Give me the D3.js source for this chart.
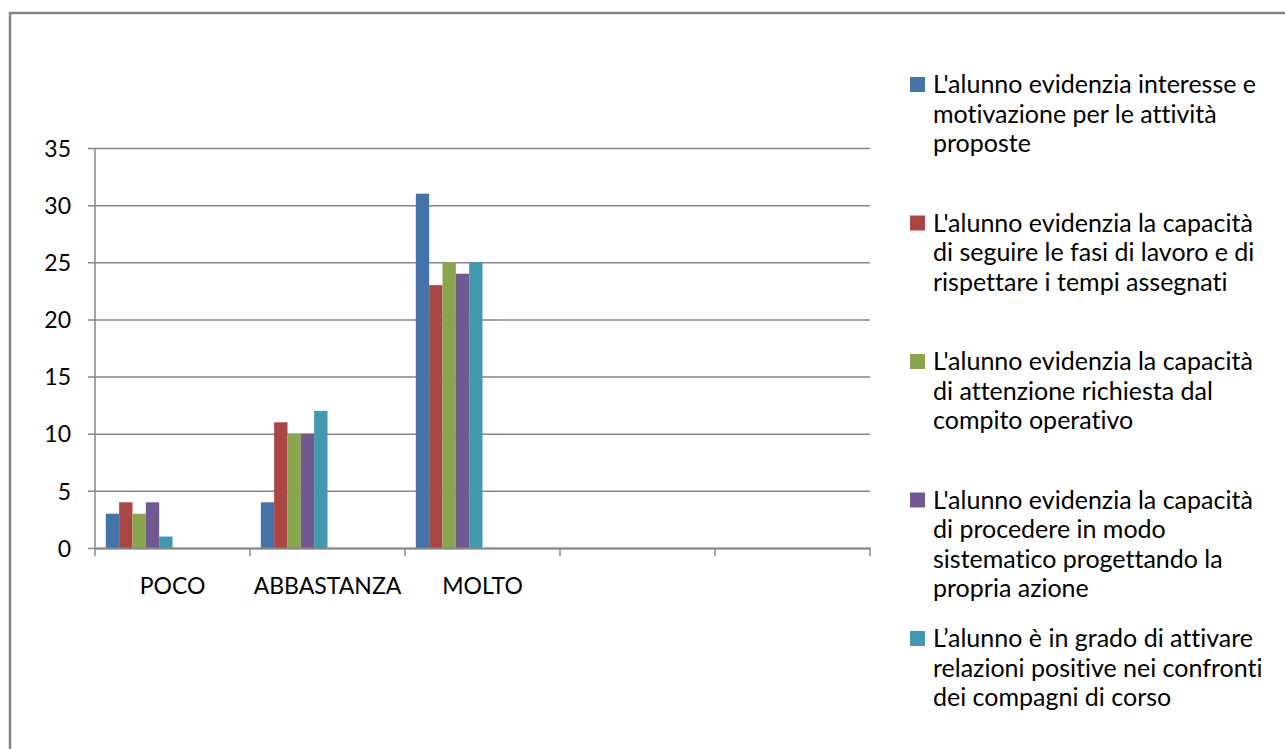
<!DOCTYPE html>
<html>
<head>
<meta charset="utf-8">
<script src="https://cdn.jsdelivr.net/npm/d3@7"></script>
<style>
  html, body { margin: 0; padding: 0; background: #fff; }
  svg { display: block; }
  text { font-family: Lato, Calibri, "Liberation Sans", sans-serif; fill: #000; font-variant-ligatures: none; }
</style>
</head>
<body>
<div id="chart"></div>
<script>
// categories on the x axis (the last two slots are empty in the original sheet)
var categories = ["POCO", "ABBASTANZA", "MOLTO", "", ""];
var categoryIds = ["c1", "c2", "c3", "c4", "c5"];

// one value per category for each series
var serie1 = [3, 4, 31];
var serie2 = [4, 11, 23];
var serie3 = [3, 10, 25];
var serie4 = [4, 10, 24];
var serie5 = [1, 12, 25];

var yTicks = [0, 5, 10, 15, 20, 25, 30, 35];

var legendLines = [
  ["L'alunno evidenzia interesse e", "motivazione per le attività", "proposte"],
  ["L'alunno evidenzia la capacità", "di seguire le fasi di lavoro e di", "rispettare i tempi assegnati"],
  ["L'alunno evidenzia la capacità", "di attenzione richiesta dal", "compito operativo"],
  ["L'alunno evidenzia la capacità", "di procedere in modo", "sistematico progettando la", "propria azione"],
  ["L\u2019alunno è in grado di attivare", "relazioni positive nei confronti", "dei compagni di corso"]
];

var colors = ["#4572A7", "#AA4643", "#89A54E", "#71588F", "#4198AF"];

var allSeries = [serie1, serie2, serie3, serie4, serie5];

// flatten to bar records
var bars = [];
allSeries.forEach(function(s, si) {
  s.forEach(function(v, ci) {
    bars.push({ cat: categoryIds[ci], series: si, value: v });
  });
});

var width = 1285, height = 749;
var svg = d3.select("#chart").append("svg")
  .attr("width", width)
  .attr("height", height);

// outer chart frame (runs off the right and bottom edge)
svg.append("rect")
  .attr("x", 10).attr("y", 13)
  .attr("width", 1320).attr("height", 800)
  .attr("fill", "none")
  .attr("stroke", "#868686")
  .attr("stroke-width", 2.5);

var plotLeft = 95, plotRight = 870, plotTop = 148, plotBottom = 548;

var x0 = d3.scaleBand()
  .domain(categoryIds)
  .range([plotLeft, plotRight])
  .padding(0);

// 10 slots per cluster, only the first five are used
var x1 = d3.scaleBand()
  .domain(d3.range(10))
  .range([0, x0.bandwidth()])
  .paddingInner(0)
  .paddingOuter(0.81);

var y = d3.scaleLinear()
  .domain([0, 35])
  .range([plotBottom, plotTop]);

// gridlines + left ticks
var yAxis = d3.axisLeft(y)
  .tickValues(yTicks)
  .tickSize(-(plotRight - plotLeft + 7))
  .tickPadding(24)
  .tickFormat(d3.format("d"));

var gy = svg.append("g")
  .attr("transform", "translate(" + plotLeft + ",0)")
  .call(yAxis);
gy.select(".domain").remove();
gy.selectAll(".tick line")
  .attr("x1", -7)
  .attr("x2", plotRight - plotLeft)
  .attr("stroke", "#868686")
  .attr("stroke-width", 1.5);
gy.selectAll(".tick text")
  .style("font-size", "23px")
  .attr("dy", "0.36em");

// bars
svg.append("g").selectAll("rect")
  .data(bars)
  .enter()
  .append("rect")
  .attr("x", function(d) { return x0(d.cat) + x1(d.series); })
  .attr("y", function(d) { return y(d.value); })
  .attr("width", x1.bandwidth())
  .attr("height", function(d) { return y(0) - y(d.value); })
  .attr("fill", function(d) { return colors[d.series]; });

// y axis line
svg.append("line")
  .attr("x1", plotLeft).attr("x2", plotLeft)
  .attr("y1", plotTop).attr("y2", plotBottom)
  .attr("stroke", "#868686")
  .attr("stroke-width", 1.5);

// x axis with category boundary ticks
var xAxis = d3.axisBottom(x0)
  .tickSize(0)
  .tickPadding(30)
  .tickFormat(function(d, i) { return categories[i]; });

var gx = svg.append("g")
  .attr("transform", "translate(0," + plotBottom + ")")
  .call(xAxis);
gx.select(".domain")
  .attr("stroke", "#868686")
  .attr("stroke-width", 2);
gx.selectAll(".tick text")
  .style("font-size", "23px");

var bounds = categoryIds.map(function(c) { return x0(c); }).concat([plotRight]);
gx.selectAll(".bound")
  .data(bounds)
  .enter()
  .append("line")
  .attr("class", "bound")
  .attr("x1", function(d) { return d; })
  .attr("x2", function(d) { return d; })
  .attr("y1", 0).attr("y2", 8)
  .attr("stroke", "#868686")
  .attr("stroke-width", 1.5);

// legend
var legendX = 910, legendTop = 84, legendStep = 138.5, lineStep = 29.5;
var lg = svg.append("g").selectAll("g")
  .data(legendLines)
  .enter()
  .append("g")
  .attr("transform", function(d, i) { return "translate(" + legendX + "," + (legendTop + i * legendStep) + ")"; });

lg.append("rect")
  .attr("x", 0).attr("y", -7)
  .attr("width", 15).attr("height", 15)
  .attr("fill", function(d, i) { return colors[i]; });

lg.append("text")
  .attr("x", 23)
  .attr("y", 0)
  .style("font-size", "25px")
  .selectAll("tspan")
  .data(function(d) { return d; })
  .enter()
  .append("tspan")
  .attr("x", 23)
  .attr("y", function(d, j) { return j * lineStep; })
  .attr("dy", "0.36em")
  .text(function(d) { return d; });
</script>
</body>
</html>
